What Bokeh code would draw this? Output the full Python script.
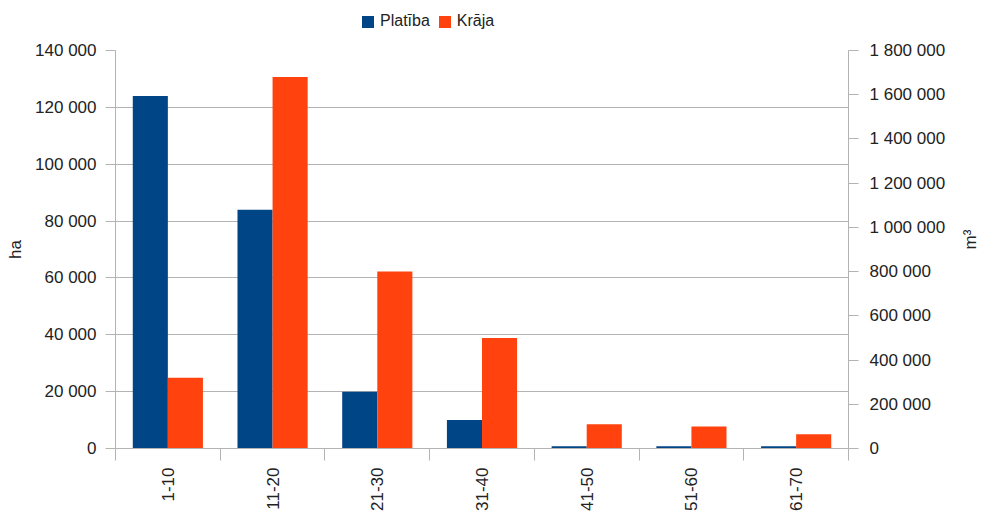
from math import pi
from bokeh.plotting import figure
from bokeh.layouts import column
from bokeh.models import (Range1d, LinearAxis, FixedTicker, CustomJSTickFormatter,
                          Legend, LegendItem, ColumnDataSource)
from bokeh.transform import dodge
from bokeh.embed import file_html
from bokeh.resources import INLINE

# ---- data ----
categories = ["1-10", "11-20", "21-30", "31-40", "41-50", "51-60", "61-70"]
platiba_ha = [124000, 84000, 20000, 10000, 800, 800, 800]
kraja_m3 = [320000, 1680000, 800000, 500000, 110000, 100000, 65000]
left_ticks = [0, 20000, 40000, 60000, 80000, 100000, 120000, 140000]
right_ticks = [0, 200000, 400000, 600000, 800000, 1000000, 1200000, 1400000, 1600000, 1800000]
series_names = ["Platība", "Krāja"]

BLUE = "#004586"
ORANGE = "#ff420e"
GRID = "#b3b3b3"
TEXT = "#222222"
FONT = "Liberation Sans"
FS = "17px"

n = len(categories)
src = ColumnDataSource(dict(
    x=[i + 0.5 for i in range(n)],
    platiba=platiba_ha,
    kraja=kraja_m3,
))

# ---------- main chart ----------
p = figure(width=992, height=473,
           x_range=Range1d(0, n), y_range=Range1d(0, left_ticks[-1]),
           output_backend="svg", toolbar_location=None,
           min_border_left=115, min_border_right=144,
           min_border_top=10, min_border_bottom=65)
p.extra_y_ranges = {"m3": Range1d(0, right_ticks[-1])}

w = 0.335
r1 = p.vbar(x=dodge("x", -w / 2, range=p.x_range), top="platiba", width=w,
            source=src, fill_color=BLUE, line_color=None)
r2 = p.vbar(x=dodge("x", w / 2, range=p.x_range), top="kraja", width=w,
            source=src, fill_color=ORANGE, line_color=None, y_range_name="m3")

fmt_code = """
const s = Math.round(tick).toString();
return s.replace(/\\B(?=(\\d{3})+(?!\\d))/g, " ");
"""

def style_axis(ax):
    ax.axis_line_color = GRID
    ax.major_tick_line_color = GRID
    ax.minor_tick_line_color = GRID
    ax.major_label_text_font = FONT
    ax.major_label_text_font_size = FS
    ax.major_label_text_color = TEXT
    ax.axis_label_text_font = FONT
    ax.axis_label_text_font_size = FS
    ax.axis_label_text_color = TEXT
    ax.axis_label_text_font_style = "normal"

# x axis
xa = p.xaxis[0]
style_axis(xa)
xa.ticker = FixedTicker(ticks=[i + 0.5 for i in range(n)], minor_ticks=list(range(n + 1)))
xa.formatter = CustomJSTickFormatter(args=dict(cats=categories),
                                     code="return cats[Math.floor(tick)];")
xa.major_tick_out = 0
xa.major_tick_in = 0
xa.minor_tick_out = 12
xa.minor_tick_in = 0
xa.major_label_orientation = pi / 2
xa.major_label_standoff = 7

# left axis
ya = p.yaxis[0]
style_axis(ya)
ya.ticker = FixedTicker(ticks=left_ticks)
ya.formatter = CustomJSTickFormatter(code=fmt_code)
ya.major_tick_out = 10
ya.major_tick_in = 0
ya.minor_tick_out = 0
ya.minor_tick_in = 0
ya.major_label_standoff = 9
ya.axis_label = "ha"
ya.axis_label_standoff = 7

# right axis
ra = LinearAxis(y_range_name="m3")
style_axis(ra)
ra.ticker = FixedTicker(ticks=right_ticks)
ra.formatter = CustomJSTickFormatter(code=fmt_code)
ra.major_tick_out = 10
ra.major_tick_in = 0
ra.minor_tick_out = 0
ra.minor_tick_in = 0
ra.major_label_standoff = 11
ra.axis_label = "m³"
ra.axis_label_standoff = 22
if "axis_label_orientation" in LinearAxis.properties():
    ra.axis_label_orientation = pi / 2
p.add_layout(ra, "right")

p.xgrid.visible = False
p.ygrid.grid_line_color = GRID
p.ygrid.ticker = FixedTicker(ticks=left_ticks)
p.outline_line_color = None

# ---------- legend strip above the chart ----------
lg = figure(width=992, height=40, x_range=Range1d(0, 1), y_range=Range1d(0, 1),
            output_backend="svg", toolbar_location=None,
            x_axis_type=None, y_axis_type=None, min_border=0)
lg.grid.visible = False
lg.outline_line_color = None
# legend keys share the chart's source; the renderers themselves stay hidden
k1 = lg.vbar(x="x", top="platiba", width=w, source=src, fill_color=BLUE,
             line_color=None, visible=False)
k2 = lg.vbar(x="x", top="kraja", width=w, source=src, fill_color=ORANGE,
             line_color=None, visible=False)

legend = Legend(items=[LegendItem(label=series_names[0], renderers=[k1]),
                       LegendItem(label=series_names[1], renderers=[k2])],
                location=(245, 10), orientation="horizontal",
                glyph_width=15, glyph_height=15, label_standoff=5, spacing=7,
                padding=0, margin=0, border_line_color=None,
                background_fill_alpha=0, inactive_fill_alpha=0,
                click_policy="none",
                label_text_font=FONT, label_text_font_size="16px",
                label_text_color=TEXT)
lg.add_layout(legend)

layout = column(lg, p, spacing=0)
open("out.html", "w").write(file_html(layout, INLINE))
